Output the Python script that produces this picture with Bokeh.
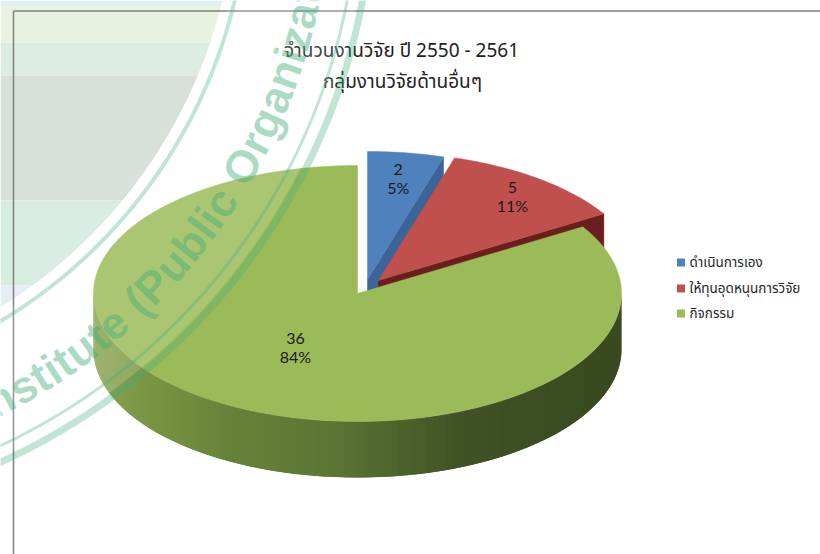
import numpy as np
from bokeh.plotting import figure
from bokeh.models import Range1d
from bokeh.core.properties import value
from bokeh.embed import file_html
from bokeh.resources import INLINE

# ---------------- data ----------------
categories = ["ดำเนินการเอง", "ให้ทุนอุดหนุนการวิจัย", "กิจกรรม"]
counts = [2, 5, 36]
pct_labels = ["5%", "11%", "84%"]
title_lines = ["จำนวนงานวิจัย ปี 2550 - 2561", "กลุ่มงานวิจัยด้านอื่นๆ"]

# ---------------- styles ----------------
top_colors = ["#4f81bd", "#c0504d", "#9bbb59"]
face_colors = ["#3b6598", "#6a1f1e", "#5c7a30"]
explode = [(10, -14), (21, -13), (0, 0)]      # pixel offsets of each slice
label_frac = [0.80, 0.83, 0.48]
CX, CY, RX, RY, DEPTH = 357, 293, 264, 128, 56
THAI = value("Noto Sans Thai, Noto Sans, sans-serif")

p = figure(width=820, height=554, x_range=Range1d(0, 820), y_range=Range1d(554, 0),
           output_backend="svg", toolbar_location=None, min_border=0,
           x_axis_location=None, y_axis_location=None)
p.grid.visible = False
p.outline_line_color = None
p.background_fill_color = "white"

# ---------------- watermark background (inside of seal) ----------------
WX, WY = -264, -118


def disc_band(r, y0, y1, n=40):
    ys = np.linspace(y0, y1, n)
    xs = WX + np.sqrt(np.clip(r ** 2 - (ys - WY) ** 2, 0, None))
    return [0] + list(xs) + [0], [y0] + list(ys) + [y1]


bands = [(0, 6, "#e2eef6"), (6, 42, "#e8f2e0"), (42, 75, "#ddece1"), (75, 200, "#d7e1da"),
         (200, 285, "#d8ede1"), (285, 320, "#e6eef5")]
bx, by, bc = [], [], []
for y0, y1, c in bands:
    xx, yy = disc_band(500, y0, y1)
    bx.append(xx); by.append(yy); bc.append(c)
p.patches(bx, by, fill_color=bc, line_color=None)

# ---------------- chart frame ----------------
p.line([13, 820], [10.5, 10.5], line_color="#7f7f7f", line_width=1.5)
p.line([13, 13], [10.5, 554], line_color="#7f7f7f", line_width=1.5)

# ---------------- 3D pie ----------------
total = float(sum(counts))
bounds = np.concatenate([[0], np.cumsum(counts)]) / total * 2 * np.pi


def ept(cx, cy, th):
    return cx + RX * np.sin(th), cy - RY * np.cos(th)


stops = [(0.0, (58, 74, 32)), (0.3, (64, 82, 38)), (0.55, (92, 118, 52)),
         (0.75, (104, 132, 58)), (0.9, (122, 150, 68)), (1.0, (138, 166, 82))]


def wall_color(t):
    for j in range(len(stops) - 1):
        if stops[j][0] <= t <= stops[j + 1][0]:
            u = (t - stops[j][0]) / (stops[j + 1][0] - stops[j][0])
            col = tuple(int(stops[j][1][m] + u * (stops[j + 1][1][m] - stops[j][1][m])) for m in range(3))
            return "#%02x%02x%02x" % col
    return "#3a4a20"


for i in range(len(counts)):
    a0, a1 = bounds[i], bounds[i + 1]
    cx, cy = CX + explode[i][0], CY + explode[i][1]
    nrm = a1 + np.pi / 2
    if np.cos(nrm) < -0.05:
        ex, ey = ept(cx, cy, a1)
        p.patch([cx, ex, ex, cx], [cy, ey, ey + DEPTH, cy + DEPTH], fill_color=face_colors[i],
                line_color=face_colors[i], line_width=0.5)
    w0, w1 = max(a0, np.pi / 2), min(a1, 1.5 * np.pi)
    if w1 > w0:
        ths = np.linspace(w0, w1, 121)
        ox, oy = ept(cx, cy, ths)
        sx, sy, sc = [], [], []
        for k in range(len(ths) - 1):
            k2 = min(k + 2, len(ths) - 1)
            xa, ya = ox[k], oy[k]; xb, yb = ox[k2], oy[k2]
            sx.append([xa, xb, xb, xa]); sy.append([ya, yb, yb + DEPTH, ya + DEPTH])
            sc.append(wall_color(float(np.clip((CX + RX - (ox[k] + ox[k + 1]) / 2) / (2 * RX), 0, 1))))
        p.patches(sx, sy, fill_color=sc, line_color=None)
    ths = np.linspace(a0, a1, max(4, int((a1 - a0) * 60)))
    tx, ty = ept(cx, cy, ths)
    p.patch([cx] + list(tx), [cy] + list(ty), fill_color=top_colors[i], line_color=top_colors[i],
            line_width=0.5)

# data labels
lx, ly1, ly2, t1, t2 = [], [], [], [], []
for i in range(len(counts)):
    mid = (bounds[i] + bounds[i + 1]) / 2
    cx, cy = CX + explode[i][0], CY + explode[i][1]
    x = cx + label_frac[i] * RX * np.sin(mid)
    y = cy - label_frac[i] * RY * np.cos(mid)
    lx.append(x); ly1.append(y - 9); ly2.append(y + 9)
    t1.append(str(counts[i])); t2.append(pct_labels[i])
for yy, tt in ((ly1, t1), (ly2, t2)):
    p.text(lx, yy, text=tt, text_align="center", text_baseline="middle",
           text_font=value("Lato"), text_font_size="16px", text_color="#1a1a1a")

# ---------------- title ----------------
p.text([401, 402], [51, 82], text=title_lines, text_align="center", text_baseline="middle",
       text_font=THAI, text_font_size="19px", text_color="#222222")

# ---------------- legend ----------------
leg_y = [262, 288, 313]
p.rect([680.5] * 3, leg_y, width=8, height=8, fill_color=top_colors, line_color=None)
p.text([689] * 3, leg_y, text=categories, text_align="left", text_baseline="middle",
       text_font=THAI, text_font_size="13.5px", text_color="#262626")

# ---------------- watermark overlay (seal ring + text) ----------------
phis = np.linspace(0, np.pi / 2, 200)
r_in, r_out = 506, 632
p.patch(list(WX + r_in * np.cos(phis)) + list(WX + r_out * np.cos(phis[::-1])),
        list(WY + r_in * np.sin(phis)) + list(WY + r_out * np.sin(phis[::-1])),
        fill_color="white", fill_alpha=0.16, line_color=None)
for r, w in ((512, 4), (622, 3), (637, 7)):
    p.line(WX + r * np.cos(phis), WY + r * np.sin(phis), line_color="#3fae78", line_alpha=0.32, line_width=w)

wm_text = "Institute (Public Organization)"
adv = {"I": .278, "n": .611, "s": .556, "t": .333, "i": .278, "u": .611, "e": .556, " ": .278,
       "(": .333, "P": .667, "b": .611, "l": .278, "c": .556, "O": .778, "r": .389, "g": .611,
       "a": .556, "z": .5, "o": .611, ")": .333}
FS, R = 45, 580
phi0 = np.radians(65.6)
s = 0.0
cx_, cy_, ang_, ch_ = [], [], [], []
for ch in wm_text:
    w = adv[ch] * FS
    phi = phi0 - (s + w / 2) / R
    s += w
    if ch == " ":
        continue
    cx_.append(WX + R * np.cos(phi)); cy_.append(WY + R * np.sin(phi))
    ang_.append(np.pi / 2 - phi); ch_.append(ch)
p.text(cx_, cy_, text=ch_, angle=ang_, text_align="center", text_baseline="middle",
       text_font=value("Liberation Sans"), text_font_style="bold", text_font_size="%dpx" % FS,
       text_color="#3fae78", text_alpha=0.44)

open("out.html", "w").write(file_html(p, INLINE))
